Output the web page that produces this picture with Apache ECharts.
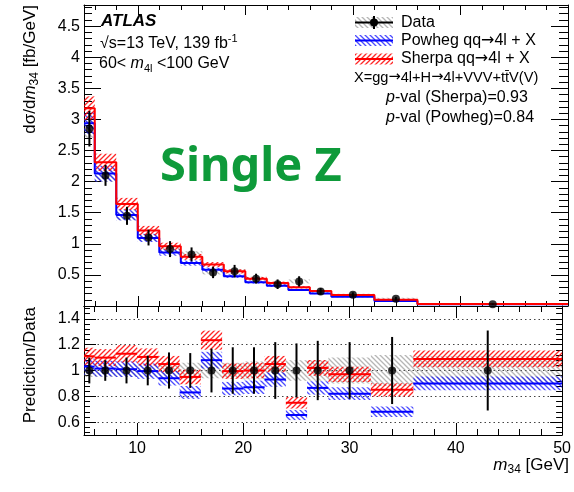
<!DOCTYPE html>
<html><head><meta charset="utf-8">
<script src="https://cdn.jsdelivr.net/npm/echarts@6/dist/echarts.min.js"></script>
<style>html,body{margin:0;padding:0;background:#fff}#c{width:574px;height:492px}</style>
</head><body><div id="c"></div>
<script>
// ---------- data ----------
const BIN_EDGES = [5, 6, 8, 10, 12, 14, 16, 18, 20, 22, 24, 26, 28, 32, 36, 50];
const DATA_X = [5.5, 7, 9, 11, 13, 15, 17, 19, 21, 23, 25, 27, 30, 34, 43];
const DATA_Y = [2.85, 2.10, 1.45, 1.10, 0.915, 0.83, 0.54, 0.56, 0.44, 0.35, 0.395, 0.235, 0.18, 0.117, 0.03];
const DATA_STAT_REL = [0.10, 0.08, 0.10, 0.115, 0.14, 0.135, 0.17, 0.18, 0.18, 0.22, 0.21, 0.23, 0.22, 0.26, 0.31];
const DATA_SYST_REL = [0.05, 0.05, 0.05, 0.05, 0.06, 0.06, 0.06, 0.06, 0.07, 0.07, 0.08, 0.08, 0.10, 0.12, 0.11];
const SHERPA = [3.18, 2.31, 1.64, 1.215, 0.96, 0.79, 0.667, 0.557, 0.44, 0.37, 0.30, 0.24, 0.175, 0.10, 0.033];
const POWHEG = [2.94, 2.13, 1.465, 1.095, 0.86, 0.69, 0.583, 0.48, 0.383, 0.326, 0.259, 0.203, 0.148, 0.08, 0.027];
const SHERPA_REL_UNC = [0.06, 0.06, 0.06, 0.06, 0.06, 0.06, 0.06, 0.06, 0.06, 0.06, 0.06, 0.06, 0.06, 0.06, 0.06];
const POWHEG_REL_UNC = [0.06, 0.06, 0.06, 0.06, 0.06, 0.06, 0.06, 0.06, 0.06, 0.06, 0.06, 0.06, 0.06, 0.06, 0.06];
const RATIO_SHERPA = [1.11, 1.10, 1.13, 1.105, 1.05, 0.95, 1.235, 0.995, 1.0, 1.05, 0.75, 1.02, 0.97, 0.85, 1.09];
const RATIO_POWHEG = [1.03, 1.015, 1.01, 0.995, 0.94, 0.83, 1.08, 0.86, 0.87, 0.93, 0.655, 0.865, 0.82, 0.68, 0.90];
const DATA_RATIO = [1, 1, 1, 1, 1, 1, 1, 1, 1, 1, 1, 1, 1, 1, 1];

const X_LABELS = [10, 20, 30, 40, 50];
const Y_TOP_LABELS = [0.5, 1, 1.5, 2, 2.5, 3, 3.5, 4, 4.5];
const Y_RATIO_LABELS = [0.6, 0.8, 1, 1.2, 1.4];

// ---------- helpers ----------
const F = 'Liberation Sans, Arial, sans-serif';
const X_MIN = 5, X_MAX = 50, Y_TOP_MAX = 4.84, R_MIN = 0.5, R_MAX = 1.5;
const N = DATA_X.length;

const xMinor = []; for (let v = 6; v < 50; v += 2) if (v % 10) xMinor.push(v);
const yTopMinor = []; for (let i = 1; i <= 48; i++) if (i % 5) yTopMinor.push(i / 10);
const yRatMinor = []; for (let i = 13; i <= 37; i++) if (i % 5) yRatMinor.push(i * 0.04);

function hatch(color, dir) {
  const s = 5;
  const c = document.createElement('canvas'); c.width = s; c.height = s;
  const g = c.getContext('2d'); g.strokeStyle = color; g.lineWidth = 1.3;
  g.beginPath();
  if (dir > 0) {
    g.moveTo(0, s); g.lineTo(s, 0);
    g.moveTo(-1, 1); g.lineTo(1, -1);
    g.moveTo(s - 1, s + 1); g.lineTo(s + 1, s - 1);
  } else {
    g.moveTo(0, 0); g.lineTo(s, s);
    g.moveTo(-1, s - 1); g.lineTo(1, s + 1);
    g.moveTo(s - 1, -1); g.lineTo(s + 1, 1);
  }
  g.stroke();
  return { image: c, repeat: 'repeat' };
}
const PAT_RED = hatch('rgba(255,0,0,0.85)', 1);
const PAT_BLUE = hatch('rgba(0,0,255,0.7)', -1);
const PAT_GRAY = hatch('rgba(110,110,110,0.5)', -1);

function xAx(grid, pos, ticks, len, labels, line) {
  return {
    type: 'value', gridIndex: grid, min: X_MIN, max: X_MAX, position: pos,
    axisLine: { show: line, onZero: false, lineStyle: { color: '#000', width: 1 } },
    axisTick: { show: true, inside: true, length: len, customValues: ticks, lineStyle: { color: '#000', width: 1 } },
    axisLabel: labels ? { show: true, customValues: labels, color: '#000', fontSize: 16, fontFamily: F, margin: 6 } : { show: false },
    splitLine: { show: false }
  };
}
function yAx(grid, pos, min, max, ticks, len, labels, line) {
  return {
    type: 'value', gridIndex: grid, min, max, position: pos,
    axisLine: { show: line, onZero: false, lineStyle: { color: '#000', width: 1 } },
    axisTick: { show: true, inside: true, length: len, customValues: ticks, lineStyle: { color: '#000', width: 1 } },
    axisLabel: labels ? { show: true, customValues: labels, color: '#000', fontSize: 16, fontFamily: F, margin: 4 } : { show: false },
    splitLine: { show: false }
  };
}

function bandSeries(xi, yi, data, pat, z) {
  return {
    type: 'custom', xAxisIndex: xi, yAxisIndex: yi, z, silent: true, clip: true, data,
    renderItem: (p, api) => {
      const a = api.coord([api.value(0), api.value(3)]);
      const b = api.coord([api.value(1), api.value(2)]);
      return { type: 'rect', shape: { x: a[0], y: a[1], width: b[0] - a[0], height: b[1] - a[1] }, style: { fill: pat, stroke: null } };
    }
  };
}
function segSeries(xi, yi, data, color, z) {
  return {
    type: 'custom', xAxisIndex: xi, yAxisIndex: yi, z, silent: true, clip: true, data,
    renderItem: (p, api) => {
      const a = api.coord([api.value(0), api.value(2)]);
      const b = api.coord([api.value(1), api.value(2)]);
      return { type: 'line', shape: { x1: a[0], y1: a[1], x2: b[0], y2: b[1] }, style: { stroke: color, lineWidth: 2 } };
    }
  };
}
function errSeries(xi, yi, data, z) {
  return {
    type: 'custom', xAxisIndex: xi, yAxisIndex: yi, z, silent: true, clip: true, data,
    renderItem: (p, api) => {
      const a = api.coord([api.value(0), api.value(1)]);
      const b = api.coord([api.value(0), api.value(2)]);
      return { type: 'line', shape: { x1: a[0], y1: a[1], x2: b[0], y2: b[1] }, style: { stroke: '#000', lineWidth: 2 } };
    }
  };
}
const band = (vals, rel) => vals.map((v, i) => [BIN_EDGES[i], BIN_EDGES[i + 1], v * (1 - rel[i]), v * (1 + rel[i])]);
const segs = vals => vals.map((v, i) => [BIN_EDGES[i], BIN_EDGES[i + 1], v]);
const steps = vals => BIN_EDGES.map((e, i) => [e, vals[Math.min(i, N - 1)]]);

const sherpaRatioUnc = RATIO_SHERPA.map((r, i) => [BIN_EDGES[i], BIN_EDGES[i + 1], r * (1 - SHERPA_REL_UNC[i]), r * (1 + SHERPA_REL_UNC[i])]);
const powhegRatioUnc = RATIO_POWHEG.map((r, i) => [BIN_EDGES[i], BIN_EDGES[i + 1], r * (1 - POWHEG_REL_UNC[i]), r * (1 + POWHEG_REL_UNC[i])]);

// ---------- text helpers ----------
const R = (fs) => ({
  n: { fontSize: fs, fontFamily: F, color: '#000', lineHeight: fs + 5 },
  a: { fontSize: fs, fontFamily: 'DejaVu Sans', color: '#000', lineHeight: fs + 5 },
  i: { fontSize: fs, fontFamily: F, fontStyle: 'italic', color: '#000', lineHeight: fs + 5 },
  b: { fontSize: fs + 1, fontFamily: F, fontStyle: 'italic', fontWeight: 'bold', color: '#000', lineHeight: fs + 5 },
  s: { fontSize: Math.round(fs * 0.68), fontFamily: F, color: '#000', lineHeight: Math.round(fs * 0.68), verticalAlign: 'bottom' },
  u: { fontSize: Math.round(fs * 0.68), fontFamily: F, color: '#000', lineHeight: Math.round(fs * 0.68), verticalAlign: 'top' }
});
function txt(x, y, text, fs, align, rot) {
  return {
    type: 'text', x, y, z: 200, rotation: rot || 0, silent: true,
    style: { text, rich: R(fs), fontSize: fs, fontFamily: F, fill: '#000', align: align || 'left', verticalAlign: 'middle', textAlign: align || 'left', textVerticalAlign: 'middle' }
  };
}

const LX = 355, LW = 38;
const graphic = [
  // legend
  { type: 'rect', z: 200, silent: true, shape: { x: LX, y: 17, width: LW, height: 11 }, style: { fill: PAT_GRAY } },
  { type: 'line', z: 201, silent: true, shape: { x1: LX, y1: 22.5, x2: LX + LW, y2: 22.5 }, style: { stroke: '#000', lineWidth: 2 } },
  { type: 'line', z: 201, silent: true, shape: { x1: LX + LW / 2, y1: 16, x2: LX + LW / 2, y2: 29 }, style: { stroke: '#000', lineWidth: 2 } },
  { type: 'circle', z: 202, silent: true, shape: { cx: LX + LW / 2, cy: 22.5, r: 4 }, style: { fill: '#000' } },
  { type: 'rect', z: 200, silent: true, shape: { x: LX, y: 35, width: LW, height: 11 }, style: { fill: PAT_BLUE } },
  { type: 'line', z: 201, silent: true, shape: { x1: LX, y1: 40.5, x2: LX + LW, y2: 40.5 }, style: { stroke: '#0000ff', lineWidth: 2 } },
  { type: 'rect', z: 200, silent: true, shape: { x: LX, y: 53.5, width: LW, height: 11 }, style: { fill: PAT_RED } },
  { type: 'line', z: 201, silent: true, shape: { x1: LX, y1: 59, x2: LX + LW, y2: 59 }, style: { stroke: '#ff0000', lineWidth: 2 } },
  txt(401, 22.5, '{n|Data}', 16),
  txt(401, 40.5, '{n|Powheg qq}{a|\u2192}{n|4l + X}', 16),
  txt(401, 59, '{n|Sherpa qq}{a|\u2192}{n|4l + X}', 16),
  txt(354, 77.5, '{n|X=gg}{a|\u2192}{n|4l+H}{a|\u2192}{n|4l+VVV+tt\u0304V(V)}', 14.6),
  txt(386, 97.5, '{i|p}{n|-val (Sherpa)=0.93}', 16),
  txt(386, 117.5, '{i|p}{n|-val (Powheg)=0.84}', 16),
  // ATLAS label
  txt(101, 21.5, '{b|ATLAS}', 16),
  txt(100, 44, '{n|\u221As=13 TeV, 139 fb}{u|-1}', 16),
  txt(99, 63.5, '{n|60< }{i|m}{s|4l}{n| <100 GeV}', 16),
  // axis titles
  txt(30, 5, '{n|d\u03c3/d}{i|m}{s|34}{n| [fb/GeV]}', 17, 'right', Math.PI / 2),
  txt(30, 307, '{n|Prediction/Data}', 17, 'right', Math.PI / 2),
  txt(569, 465, '{i|m}{s|34}{n| [GeV]}', 17, 'right'),
  // Single Z annotation
  { type: 'text', x: 160, y: 168, z: 200, silent: true,
    style: { text: 'Single Z', fill: '#0e9a3a', font: 'bold 47px "Noto Sans"', fontSize: 47, fontWeight: 'bold', fontFamily: 'Noto Sans', align: 'left', verticalAlign: 'middle', textAlign: 'left', textVerticalAlign: 'middle' } }
];

const option = {
  animation: false,
  backgroundColor: '#fff',
  grid: [
    { left: 84, top: 5, width: 484, height: 301 },
    { left: 84, top: 306, width: 484, height: 129 }
  ],
  xAxis: [
    xAx(0, 'bottom', X_LABELS, 10, null, true),
    xAx(0, 'bottom', xMinor, 5, null, false),
    xAx(0, 'top', X_LABELS, 10, null, true),
    xAx(0, 'top', xMinor, 5, null, false),
    xAx(1, 'bottom', X_LABELS, 12, X_LABELS, true),
    xAx(1, 'bottom', xMinor, 6, null, false),
    xAx(1, 'top', X_LABELS, 12, null, true),
    xAx(1, 'top', xMinor, 6, null, false)
  ],
  yAxis: [
    yAx(0, 'left', 0, Y_TOP_MAX, Y_TOP_LABELS, 17, Y_TOP_LABELS, true),
    yAx(0, 'left', 0, Y_TOP_MAX, yTopMinor, 8, null, false),
    yAx(0, 'right', 0, Y_TOP_MAX, Y_TOP_LABELS, 17, null, true),
    yAx(0, 'right', 0, Y_TOP_MAX, yTopMinor, 9, null, false),
    yAx(1, 'left', R_MIN, R_MAX, Y_RATIO_LABELS, 12, Y_RATIO_LABELS, true),
    yAx(1, 'left', R_MIN, R_MAX, yRatMinor, 6, null, false),
    yAx(1, 'right', R_MIN, R_MAX, Y_RATIO_LABELS, 12, null, true),
    yAx(1, 'right', R_MIN, R_MAX, yRatMinor, 6, null, false)
  ],
  series: [
    // top panel
    bandSeries(0, 0, band(DATA_Y, DATA_SYST_REL), PAT_GRAY, 1),
    bandSeries(0, 0, band(POWHEG, POWHEG_REL_UNC), PAT_BLUE, 2),
    bandSeries(0, 0, band(SHERPA, SHERPA_REL_UNC), PAT_RED, 3),
    { type: 'line', xAxisIndex: 0, yAxisIndex: 0, step: 'end', data: steps(POWHEG), symbol: 'none', silent: true, z: 4, lineStyle: { color: '#0000ff', width: 2 } },
    { type: 'line', xAxisIndex: 0, yAxisIndex: 0, step: 'end', data: steps(SHERPA), symbol: 'none', silent: true, z: 5, lineStyle: { color: '#ff0000', width: 2 } },
    errSeries(0, 0, DATA_X.map((x, i) => [x, DATA_Y[i] * (1 - DATA_STAT_REL[i]), DATA_Y[i] * (1 + DATA_STAT_REL[i])]), 6),
    { type: 'scatter', xAxisIndex: 0, yAxisIndex: 0, data: DATA_X.map((x, i) => [x, DATA_Y[i]]), symbol: 'circle', symbolSize: 8, silent: true, z: 7, itemStyle: { color: '#000' } },
    // ratio panel
    bandSeries(4, 4, band(DATA_RATIO, DATA_SYST_REL), PAT_GRAY, 1),
    bandSeries(4, 4, powhegRatioUnc, PAT_BLUE, 2),
    bandSeries(4, 4, sherpaRatioUnc, PAT_RED, 3),
    segSeries(4, 4, segs(RATIO_POWHEG), '#0000ff', 4),
    segSeries(4, 4, segs(RATIO_SHERPA), '#ff0000', 5),
    errSeries(4, 4, DATA_X.map((x, i) => [x, DATA_RATIO[i] - DATA_STAT_REL[i], DATA_RATIO[i] + DATA_STAT_REL[i]]), 6),
    { type: 'scatter', xAxisIndex: 4, yAxisIndex: 4, data: DATA_X.map((x, i) => [x, DATA_RATIO[i]]), symbol: 'circle', symbolSize: 8, silent: true, z: 7, itemStyle: { color: '#000' },
      markLine: { silent: true, symbol: 'none', label: { show: false }, animation: false, z: 0,
        lineStyle: { color: '#444', width: 1, type: [1.5, 3] },
        data: Y_RATIO_LABELS.map(v => ({ yAxis: v })) } }
  ],
  graphic
};
const chart = echarts.init(document.getElementById('c'), null, { renderer: 'canvas' });
chart.setOption(option);
</script></body></html>
